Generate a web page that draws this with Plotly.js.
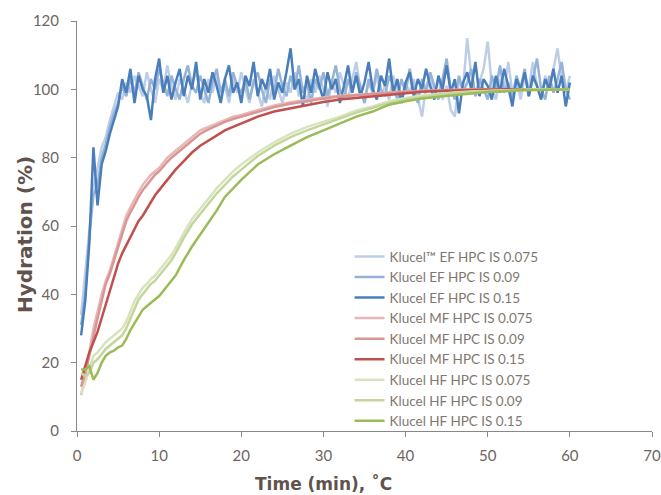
<!DOCTYPE html>
<html><head><meta charset="utf-8">
<script src="https://cdn.plot.ly/plotly-3.0.1.min.js"></script>
<style>body{margin:0;padding:0;background:#fff}#chart{width:661px;height:495px}</style>
</head><body><div id="chart"></div>
<script>
// Time axis for the noisy EF series (min)
const timeEF = [0.5,1,1.5,2,2.5,3,3.5,4,4.5,5,5.5,6,6.5,7,7.5,8,8.5,9,9.5,10,
10.5,11,11.5,12,12.5,13,13.5,14,14.5,15,15.5,16,16.5,17,17.5,18,18.5,19,19.5,20,
20.5,21,21.5,22,22.5,23,23.5,24,24.5,25,25.5,26,26.5,27,27.5,28,28.5,29,29.5,30,
30.5,31,31.5,32,32.5,33,33.5,34,34.5,35,35.5,36,36.5,37,37.5,38,38.5,39,39.5,40,
40.5,41,41.5,42,42.5,43,43.5,44,44.5,45,45.5,46,46.5,47,47.5,48,48.5,49,49.5,50,
50.5,51,51.5,52,52.5,53,53.5,54,54.5,55,55.5,56,56.5,57,57.5,58,58.5,59,59.5,60];

const efIS0075 = [34,46,59,71,77,83,86,91,95,99,97,102,99,104,101,98,105,100,96,103,
100,107,101,97,103,100,96,102,105,99,96,103,99,104,98,101,96,103,99,105,
100,96,103,99,95,101,97,104,100,96,102,99,105,98,101,96,103,99,104,100,
95,102,99,105,101,97,103,108,100,96,102,99,104,98,101,97,104,100,96,102,
99,103,97,92,101,104,99,103,97,101,94,92,103,100,115,104,98,102,106,114,
101,97,103,100,108,99,103,97,104,100,108,101,98,104,100,106,112,103,99,104];

const efIS009 = [31,40,57,69,72,80,84,89,93,96,101,98,103,99,105,101,97,103,100,106,
102,98,104,100,97,103,107,101,99,104,100,96,102,106,99,103,98,105,101,99,
103,97,102,105,100,96,103,99,106,101,98,104,100,107,99,102,96,103,100,105,
98,102,107,100,97,103,99,105,101,96,103,99,106,100,98,104,101,97,103,99,
106,100,96,103,99,105,101,97,103,109,100,97,104,99,102,106,98,103,100,97,
104,100,107,99,102,97,104,100,106,98,103,109,100,97,104,99,103,108,100,97];

const efIS015 = [28,38,55,83,66,78,82,87,91,95,103,99,106,96,104,100,98,91,103,109,
99,104,97,102,106,98,104,100,108,97,103,99,105,101,96,103,107,99,102,96,
104,101,108,98,103,100,106,97,102,99,105,112,100,103,95,104,99,106,101,97,
105,100,103,96,101,107,99,104,98,102,108,100,97,104,101,109,99,103,96,102,
105,98,103,100,106,101,97,104,100,107,99,103,93,102,105,100,108,98,103,101,
97,104,99,106,101,95,103,100,105,98,104,101,97,103,100,106,99,104,95,102];

// Time axis for the smoother MF / HF series (min)
const timeMFHF = [0.5,1,1.5,2,2.5,3,3.5,4,4.5,5,5.5,6,6.5,7,7.5,8,8.5,9,9.5,10,10.5,11,11.5,12,
13,14,15,16,17,18,19,20,22,24,26,28,30,32,34,36,38,40,42,44,46,48,50,52,54,56,58,60];

const mfIS0075 = [10.5,16,23,30,35,40,44,47,51,55,59,63,65.5,68,70,72,73.5,75,76,77,78.5,80,81,82,
84,86,88,89,90,91,92,92.5,94,95.3,96.2,97,97.6,98.1,98.5,98.8,99.1,99.4,99.6,99.8,99.9,100,100,100,100,100,100,100];

const mfIS009 = [13,17,22,28,33,38,43,46,50,54,58,61.5,64,66.5,68.5,70.5,72,73.5,75,76,77.5,78.8,80,81,
83,85,87,88.3,89.5,90.5,91.3,92,93.5,94.8,95.8,96.6,97.3,97.9,98.3,98.7,99,99.3,99.5,99.7,99.9,100,100,100,100,100,100,100];

const mfIS015 = [15,19,23,26,29,33,37,41.5,45.5,49,52,54.5,57,59.5,61.5,63,65,67,69,70.5,72,73.5,75,76.5,
79,81.5,83.5,85,86.5,88,89,90,92,93.5,94.5,95.5,96.3,97,97.5,98,98.5,99,99.3,99.5,99.7,99.8,99.9,100,100,100,100,100];

const hfIS0075 = [11,14,18,22,23,24.5,26,27,28,29,30,32,35,38,40,42,43,44.5,45.5,47,48.5,50,51.5,53.5,
58,62,65,68,71,73.5,76,78,81.5,84.5,87,89,90.5,92,93.8,95,96.5,97.5,98.2,98.7,99.1,99.4,99.6,99.8,99.9,100,100,100];

const hfIS009 = [17,16,17,20,21,22.5,24,25,26,27,28,30,33,36,38.5,40,41.5,43,44,45.5,47,48.5,50,52,
56.5,60.5,63.5,66.5,69.5,72,74.5,76.5,80.5,83.5,86,88,89.8,91.5,93.2,94.6,96,97,97.8,98.4,98.9,99.2,99.5,99.7,99.8,99.9,100,100];

const hfIS015 = [18,18,19,15,17,20,22,23,23.5,24.5,25,27,29.5,31.5,33.5,35.5,36.5,37.5,38.5,39.5,41,42.5,44,45.5,
50,54,57.5,61,64.5,68.5,71,73.5,78,81,83.5,86,88,90,92,93.5,95.5,96.5,97.3,97.8,98.4,98.8,99.2,99.5,99.7,99.8,99.9,100];

const seriesNames = ["Klucel™ EF HPC IS 0.075","Klucel EF HPC IS 0.09","Klucel EF HPC IS 0.15",
  "Klucel MF HPC IS 0.075","Klucel MF HPC IS 0.09","Klucel MF HPC IS 0.15",
  "Klucel HF HPC IS 0.075","Klucel HF HPC IS 0.09","Klucel HF HPC IS 0.15"];
const seriesColors = ["#bccfe6","#95b3d7","#4a7ebb","#e6b9b8","#d99694","#c0504d","#d7e4bd","#c3d69b","#9bbb59"];
const seriesX = [timeEF,timeEF,timeEF,timeMFHF,timeMFHF,timeMFHF,timeMFHF,timeMFHF,timeMFHF];
const seriesY = [efIS0075,efIS009,efIS015,mfIS0075,mfIS009,mfIS015,hfIS0075,hfIS009,hfIS015];

const xTitle = 'Time (min), ˚C';
const yTitle = 'Hydration (%)';

const traces = seriesNames.map((n,i)=>({
  type:'scatter', mode:'lines', name:n, x:seriesX[i], y:seriesY[i],
  line:{color:seriesColors[i], width:2.5}
}));

const tickFont = {family:'Lato, "DejaVu Sans", sans-serif', size:15, color:'#6e6660'};
const titleColor = '#5f534c';

const layout = {
  width:661, height:495,
  margin:{l:77, r:9, t:21, b:64},
  paper_bgcolor:'#fff', plot_bgcolor:'#fff',
  showlegend:true,
  legend:{x:0.474, y:0.463, xanchor:'left', yanchor:'top', bgcolor:'rgba(0,0,0,0)',
    font:{family:'Lato, "DejaVu Sans", sans-serif', size:13.5, color:'#7f7770'}, tracegroupgap:0},
  xaxis:{range:[0,70], dtick:10, tick0:0, showgrid:false, zeroline:false,
    showline:true, linecolor:'#888', linewidth:1, ticks:'outside', ticklen:5, tickcolor:'#888',
    tickfont:tickFont, ticklabelstandoff:6},
  yaxis:{range:[0,120], dtick:20, tick0:0, showgrid:false, zeroline:false,
    showline:true, linecolor:'#888', linewidth:1, ticks:'outside', ticklen:5, tickcolor:'#888',
    tickfont:tickFont, ticklabelstandoff:9},
  annotations:[
    {text:'<b>'+xTitle+'</b>', xref:'paper', yref:'paper', x:0.4287, y:-0.129, xanchor:'center', yanchor:'middle',
     showarrow:false, font:{family:'"DejaVu Sans", sans-serif', size:17, color:titleColor}},
    {text:'<b>'+yTitle+'</b>', xref:'paper', yref:'paper', x:-0.0904, y:0.478, xanchor:'center', yanchor:'middle',
     textangle:-90, showarrow:false, font:{family:'"DejaVu Sans", sans-serif', size:20, color:titleColor}}
  ]
};

Plotly.newPlot('chart', traces, layout, {displayModeBar:false, staticPlot:true});
</script>
</body></html>
